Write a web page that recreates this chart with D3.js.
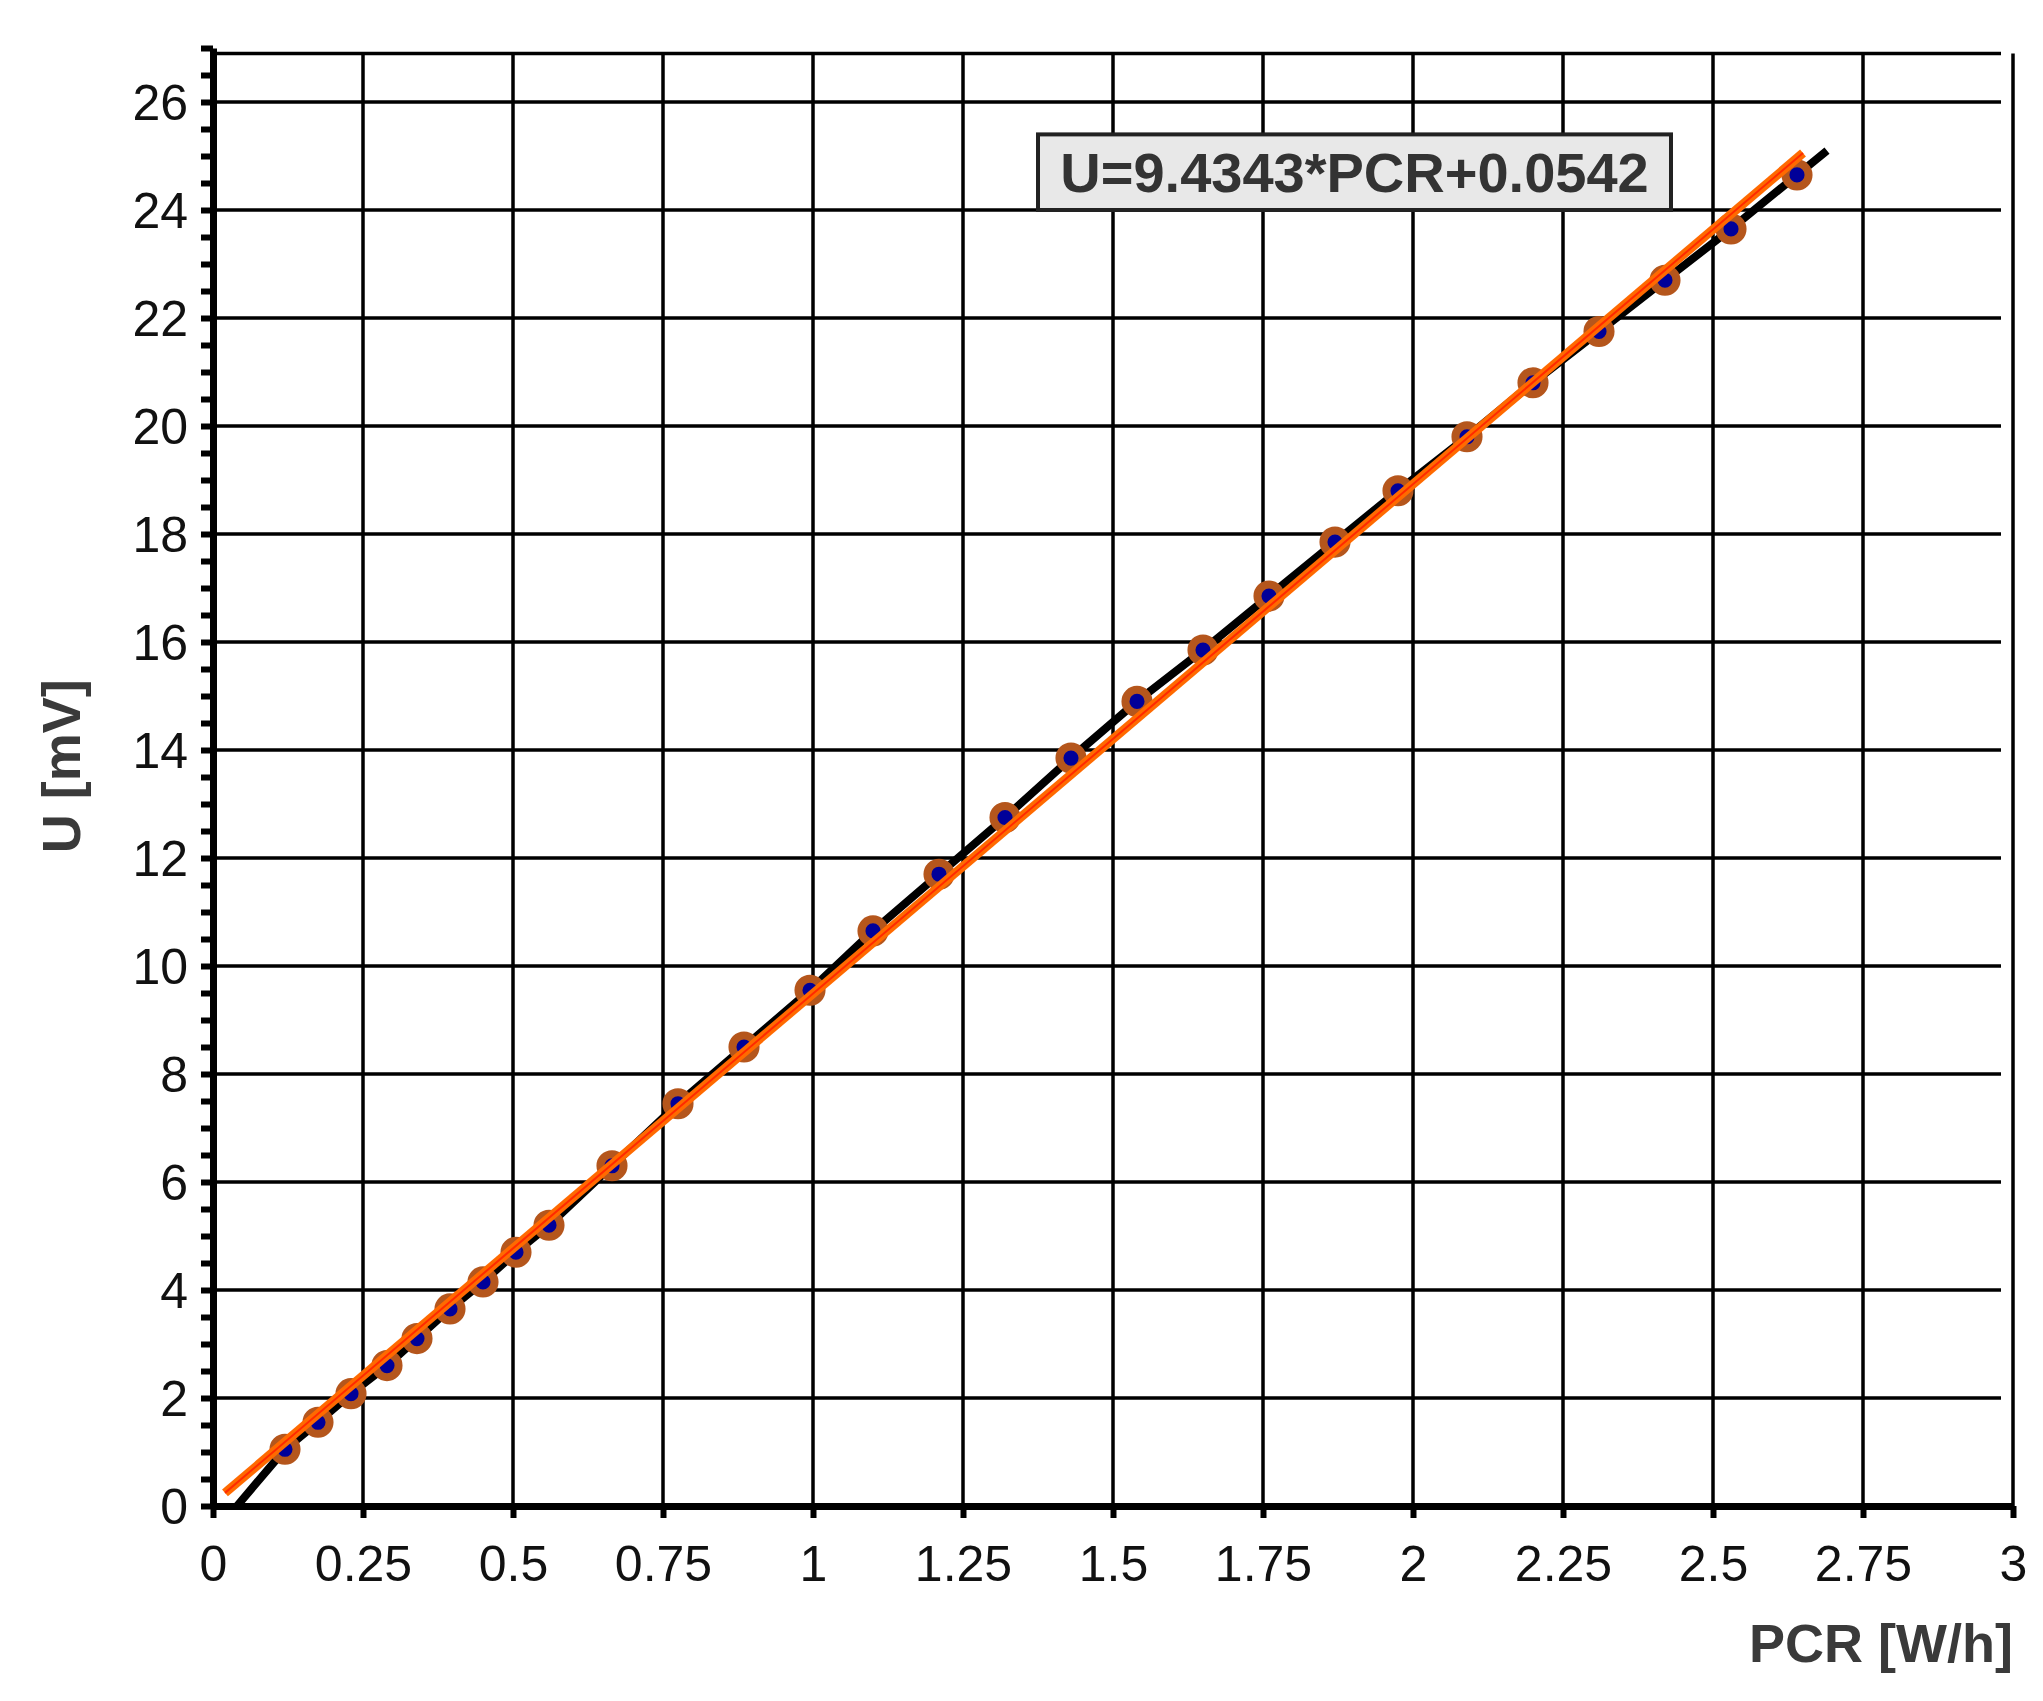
<!DOCTYPE html>
<html><head><meta charset="utf-8">
<script src="https://cdn.jsdelivr.net/npm/d3@7"></script>
<style>body{margin:0;background:#fff}</style>
</head><body>
<svg id="fig" width="2043" height="1701"></svg>
<script>
// measured points
const pcr = [0.12, 0.175, 0.23, 0.29, 0.34, 0.395, 0.45, 0.505, 0.56, 0.665, 0.775, 0.885, 0.995, 1.1, 1.21, 1.32, 1.43, 1.54, 1.65, 1.76, 1.87, 1.975, 2.09, 2.2, 2.31, 2.42, 2.53, 2.64];
const uVal = [1.05, 1.55, 2.08, 2.6, 3.1, 3.65, 4.15, 4.7, 5.2, 6.3, 7.45, 8.5, 9.55, 10.65, 11.7, 12.75, 13.85, 14.9, 15.85, 16.85, 17.85, 18.8, 19.8, 20.8, 21.75, 22.7, 23.65, 24.65];
const lineX = [0.04, 0.12, 0.175, 0.23, 0.29, 0.34, 0.395, 0.45, 0.505, 0.56, 0.665, 0.775, 0.885, 0.995, 1.1, 1.21, 1.32, 1.43, 1.54, 1.65, 1.76, 1.87, 1.975, 2.09, 2.2, 2.31, 2.42, 2.53, 2.69];
const lineU = [0, 1.05, 1.55, 2.08, 2.6, 3.1, 3.65, 4.15, 4.7, 5.2, 6.3, 7.45, 8.5, 9.55, 10.65, 11.7, 12.75, 13.85, 14.9, 15.85, 16.85, 17.85, 18.8, 19.8, 20.8, 21.75, 22.7, 23.65, 25.1];
const fitRange = [0.02, 2.65];
const slope = 9.4343, icpt = 0.0542;
const xTicks = [0, 0.25, 0.5, 0.75, 1, 1.25, 1.5, 1.75, 2, 2.25, 2.5, 2.75, 3];
const yTicks = [0, 2, 4, 6, 8, 10, 12, 14, 16, 18, 20, 22, 24, 26];

const svg = d3.select('#fig');
const x = d3.scaleLinear().domain([0, 3]).range([213, 2013]);
const y = d3.scaleLinear().domain([0, 27]).range([1506, 48]);
const font = 'Liberation Sans, Arial, sans-serif';

// grid
const grid = svg.append('g').attr('stroke', '#000').attr('stroke-width', 3.5);
grid.selectAll('.v').data(xTicks.slice(1)).enter().append('line')
  .attr('x1', d => x(d)).attr('x2', d => x(d)).attr('y1', y(0)).attr('y2', y(26.9));
grid.selectAll('.h').data(yTicks.slice(1).concat([26.9])).enter().append('line')
  .attr('y1', d => y(d)).attr('y2', d => y(d)).attr('x1', x(0)).attr('x2', x(2.98));

// axes
const xAxis = svg.append('g').attr('transform', `translate(0,${y(0)})`)
  .call(d3.axisBottom(x).tickValues(xTicks).tickFormat(d3.format('')).tickSize(12).tickSizeOuter(0));
const yAxis = svg.append('g').attr('transform', `translate(${x(0)},0)`)
  .call(d3.axisLeft(y).tickValues(d3.range(0, 27.01, 0.5)).tickFormat(d => yTicks.includes(d) ? d : '').tickSize(12).tickSizeOuter(0));
[xAxis, yAxis].forEach(a => {
  a.select('.domain').attr('stroke-width', 7);
  a.selectAll('.tick line').attr('stroke-width', 6);
  a.selectAll('text').attr('font-family', font).attr('font-size', 50).attr('fill', '#111');
});
xAxis.selectAll('text').attr('dy', '1.2em');
yAxis.selectAll('text').attr('dx', '-0.2em').attr('dy', '0.35em');

// black connecting line
const line = d3.line().x(d => x(d[0])).y(d => y(d[1]));
svg.append('path').datum(d3.zip(lineX, lineU)).attr('d', line)
  .attr('fill', 'none').attr('stroke', '#000').attr('stroke-width', 8);

// markers
const sym = d3.symbol().type(d3.symbolCircle).size(420);
const pts = svg.append('g').selectAll('g').data(d3.zip(pcr, uVal)).enter().append('g')
  .attr('transform', d => `translate(${x(d[0])},${y(d[1])})`);
pts.append('path').attr('d', sym).attr('fill', '#000099').attr('stroke', '#b5561c').attr('stroke-width', 8);

// fit line
svg.append('path').datum(fitRange.map(v => [v, slope * v + icpt])).attr('d', line)
  .attr('fill', 'none').attr('stroke', '#ff6a00').attr('stroke-width', 9);
svg.append('path').datum(fitRange.map(v => [v, slope * v + icpt])).attr('d', line)
  .attr('fill', 'none').attr('stroke', '#ff2a00').attr('stroke-width', 2);

// equation box
svg.append('rect').attr('x', x(1.375)).attr('y', y(25.4)).attr('width', x(2.43) - x(1.375)).attr('height', y(24.0) - y(25.4))
  .attr('fill', '#e8e8e8').attr('stroke', '#222').attr('stroke-width', 4);
svg.append('text').attr('x', (x(1.375) + x(2.43)) / 2).attr('y', y(24.7)).attr('dy', '0.36em')
  .attr('text-anchor', 'middle').attr('font-family', font).attr('font-weight', 'bold').attr('font-size', 56).attr('fill', '#333')
  .text('U=9.4343*PCR+0.0542');

// axis titles
svg.append('text').attr('x', 2013).attr('y', 1662).attr('text-anchor', 'end')
  .attr('font-family', font).attr('font-weight', 'bold').attr('font-size', 54).attr('fill', '#3a3a3a').text('PCR [W/h]');
svg.append('text').attr('transform', `translate(80,${y(13.7)}) rotate(-90)`).attr('text-anchor', 'middle')
  .attr('font-family', font).attr('font-weight', 'bold').attr('font-size', 54).attr('fill', '#3a3a3a').text('U [mV]');
</script>
</body></html>
